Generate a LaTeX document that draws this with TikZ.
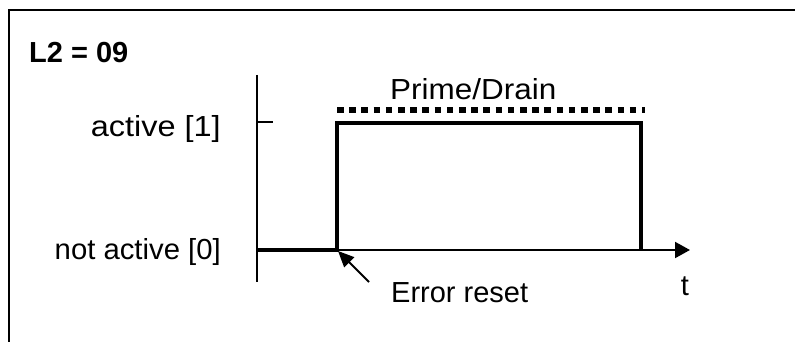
\documentclass[tikz,border=0pt]{standalone}
\usepackage{fontspec}
\setmainfont{Liberation Sans}
\usetikzlibrary{arrows.meta}
\newcommand{\widetxt}[2]{\scalebox{#1}[1]{#2}}
\begin{document}
\begin{tikzpicture}[x=1pt,y=-1pt,
  lbl/.style={inner sep=0pt,font=\fontsize{29}{33}\selectfont},
  thinline/.style={line width=2pt},
  thickline/.style={line width=4pt},
  dotline/.style={line width=6pt,dash pattern=on 6.5pt off 5.7pt}]
\useasboundingbox (0,0) rectangle (795,342);
\begin{scope}
\clip (0,0) rectangle (795,342);
\draw[thinline] (8.5,10) rectangle (820,370);
\end{scope}
% labels
\node[lbl,font=\fontsize{29}{33}\selectfont\bfseries,anchor=base west] (title) at (29,63) {L2 = 09};
\node[lbl,anchor=base east] (act) at (221,137) {\widetxt{1.12}{active [1]}};
\node[lbl,anchor=base east] (nact) at (221,259) {\widetxt{1.01}{not active [0]}};
\node[lbl,anchor=base west] (pd) at (390,100) {\widetxt{1.085}{Prime/Drain}};
\node[lbl,anchor=base west] (er) at (391,302) {Error reset};
\node[lbl,anchor=base] (t) at (685,295) {t};
% coordinates
\coordinate (ytop) at (257,75);
\coordinate (ybot) at (257,282);
\coordinate (o) at (257,250);
\coordinate (xend) at (690,250);
\coordinate (tick) at (273,122);
\coordinate (tickb) at (257,122);
\coordinate (r0) at (337,250);
\coordinate (r1) at (337,123);
\coordinate (f1) at (641,123);
\coordinate (f0) at (641,250);
\coordinate (d0) at (337,110);
\coordinate (d1) at (645,110);
\coordinate (as) at (369,282);
\coordinate (at) at (338,251);
% axes
\draw[thinline] (ytop) -- (ybot);
\draw[thinline] (tickb) -- (tick);
\draw[thinline,-{Triangle[length=15pt,width=16pt]}] (o) -- (xend);
% pulse
\draw[thickline,line join=miter] (o) -- (r0) -- (r1) -- (f1) -- (f0);
\draw[dotline] (d0) -- (d1);
% error reset arrow
\draw[thinline,-{Triangle[length=16pt,width=14pt]}] (as) -- (at);
\end{tikzpicture}
\end{document}
